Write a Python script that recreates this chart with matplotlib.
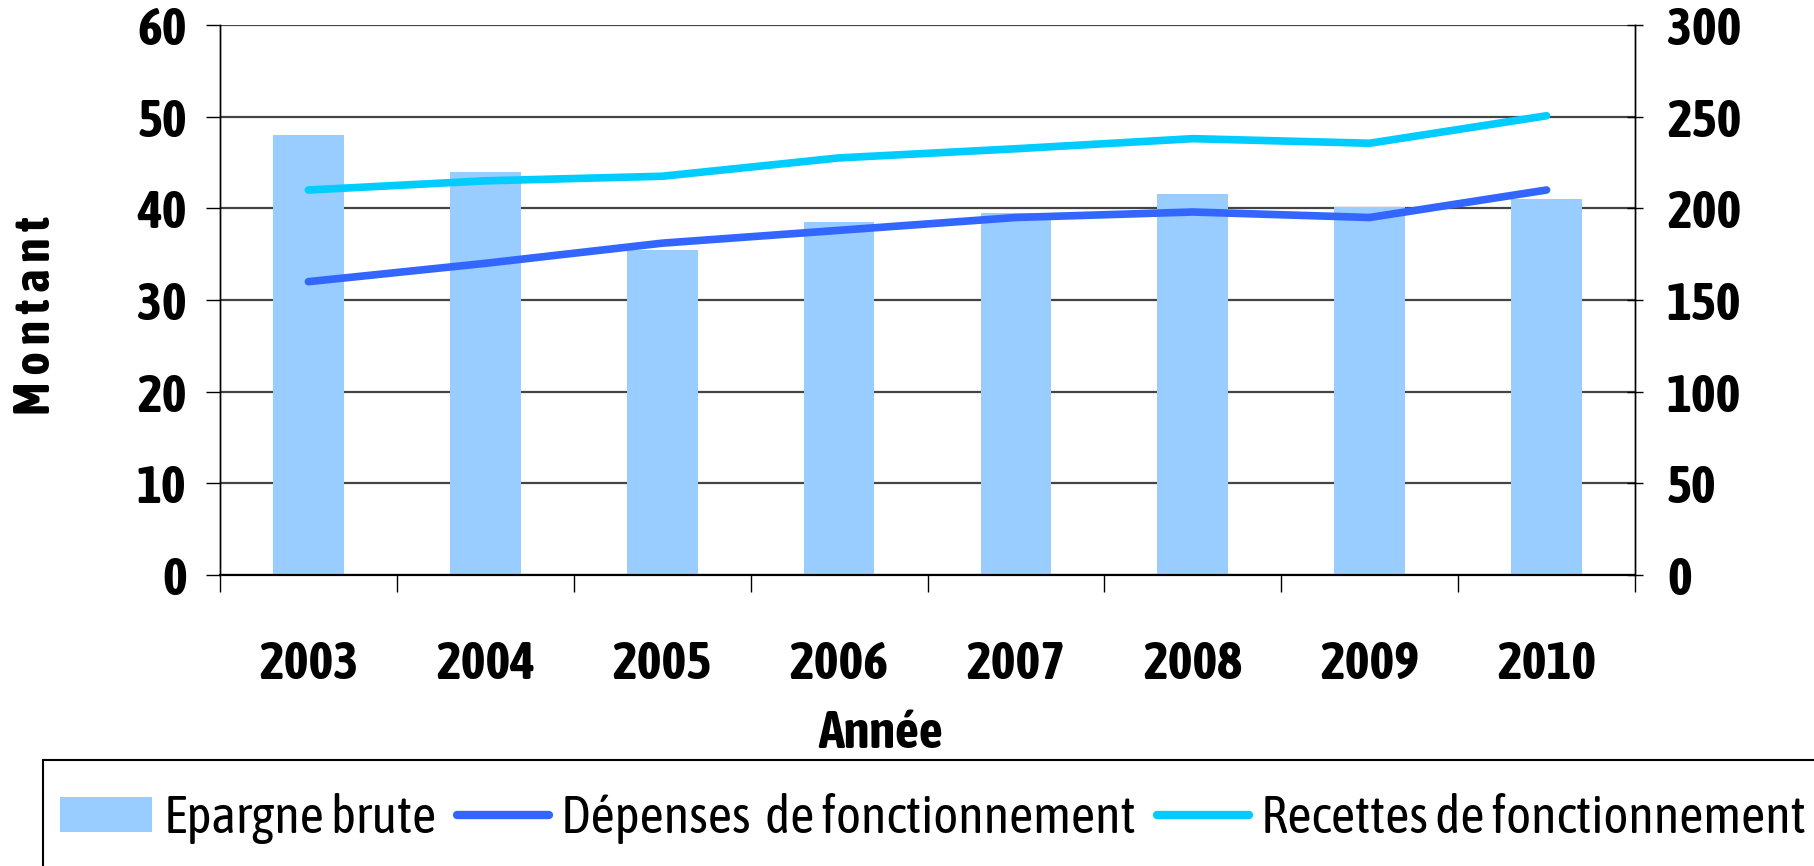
import matplotlib
matplotlib.use("Agg")
import matplotlib.pyplot as plt
from matplotlib.patches import Patch, Rectangle
from matplotlib.lines import Line2D

# ---------- données ----------
annees = ["2003", "2004", "2005", "2006", "2007", "2008", "2009", "2010"]
epargne_brute = [48.0, 44.0, 35.5, 38.5, 39.5, 41.6, 40.1, 41.0]
depenses_fonct = [160, 170, 181, 188, 195, 198, 195, 210]
recettes_fonct = [210, 215, 217.5, 227.5, 232.5, 238, 235.5, 250.5]

left_ticks = [0, 10, 20, 30, 40, 50, 60]
right_ticks = [0, 50, 100, 150, 200, 250, 300]

c_bar = "#99CCFF"
c_dep = "#3366FF"
c_rec = "#00CCFF"

plt.rcParams['font.family'] = ['Asap Condensed', 'DejaVu Sans']

W, H = 1814, 866
fig = plt.figure(figsize=(W / 100, H / 100), dpi=100)
ax = fig.add_axes([220 / W, 1 - 575 / H, (1635 - 220) / W, (575 - 25) / H])
ax2 = ax.twinx()

x = range(len(annees))
ax.bar(x, epargne_brute, width=0.4, color=c_bar, zorder=2)
ax2.plot(x, depenses_fonct, color=c_dep, lw=5.5, solid_capstyle='round', solid_joinstyle='round')
ax2.plot(x, recettes_fonct, color=c_rec, lw=5.5, solid_capstyle='round', solid_joinstyle='round')

ax.set_xlim(-0.5, len(annees) - 0.5)
ax.set_ylim(0, 60)
ax2.set_ylim(0, 300)
ax.set_yticks(left_ticks)
ax2.set_yticks(right_ticks)
ax.yaxis.grid(True, color="#444444", lw=1.6, zorder=0)
ax.set_axisbelow(True)

ax.set_xticks(list(x))
ax.set_xticklabels(annees)
ax.set_xticks([i - 0.5 for i in range(len(annees) + 1)], minor=True)
ax.tick_params(axis='x', which='major', length=0, pad=46)
ax.tick_params(axis='x', which='minor', length=12, width=1, direction='out')
ax.tick_params(axis='y', length=10, width=1, direction='out', pad=14)
ax2.tick_params(axis='y', length=12, width=1, direction='inout', pad=17)

for lab in ax.get_xticklabels() + ax.get_yticklabels() + ax2.get_yticklabels():
    lab.set_fontsize(38)
    lab.set_fontweight('bold')

for a in (ax, ax2):
    a.spines['top'].set_visible(False)
    a.spines['left'].set_linewidth(1)
    a.spines['right'].set_linewidth(1)
    a.spines['bottom'].set_linewidth(1.5)

fig.text(36 / W, 1 - 316 / H, "M o n t a n t", rotation=90, fontsize=36, fontweight='bold',
         ha='center', va='center')
fig.text(881 / W, 1 - 733 / H, "Année", fontsize=38, fontweight='bold', ha='center', va='center')

# cadre de la légende, qui déborde en bas et à droite comme dans l'original
fig.patches.append(Rectangle((43 / W, -0.05), 1.0, 1 - 760 / H + 0.05, transform=fig.transFigure,
                             fill=False, edgecolor='black', lw=1.5))

handles = [
    Patch(facecolor=c_bar, edgecolor='none'),
    Line2D([0], [0], color=c_dep, lw=6, solid_capstyle='round'),
    Line2D([0], [0], color=c_rec, lw=6, solid_capstyle='round'),
]
labels = ["Epargne brute", "Dépenses  de fonctionnement", "Recettes de fonctionnement"]
leg = fig.legend(handles, labels, loc='upper left', bbox_to_anchor=(43 / W, 1 - 776 / H),
                 ncol=3, fontsize=38, frameon=False,
                 handlelength=1.75, handleheight=0.66, handletextpad=0.22, columnspacing=0.4,
                 borderpad=0.32, borderaxespad=0)

fig.savefig("out.png", dpi=100)
